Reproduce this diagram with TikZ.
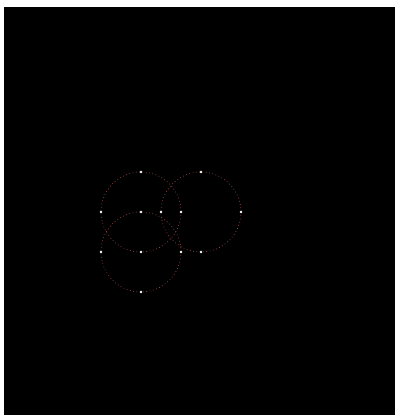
\documentclass[tikz,border=0pt]{standalone}
\usepackage{tikz}

\begin{document}
\begin{tikzpicture}[x=0.75pt,y=0.75pt,yscale=-1,xscale=1]
\tikzset{ring/.style={draw={rgb,255:red,175;green,80;blue,80},dotted,line width=0.5pt},
  pt/.style={circle,fill=white,inner sep=0pt,minimum size=2.2pt}}
\useasboundingbox (0,0) rectangle (395,415);

%Shape: Rectangle [background]
\fill [black] (4,7) rectangle (395,415);

%Shape: Circle [upper left]
\draw [ring] (141,212) circle [radius=40];
%Shape: Circle [upper right]
\draw [ring] (201,212) circle [radius=40];
%Shape: Circle [lower]
\draw [ring] (141,252) circle [radius=40];

% Points of the upper left circle
\node [pt] (aN) at (141,172) {};
\node [pt] (aW) at (101,212) {};
\node [pt] (aE) at (181,212) {};
\node [pt] (aS) at (141,252) {};
% Points of the upper right circle
\node [pt] (bN) at (201,172) {};
\node [pt] (bW) at (161,212) {};
\node [pt] (bE) at (241,212) {};
\node [pt] (bS) at (201,252) {};
% Points of the lower circle
\node [pt] (cN) at (141,212) {};
\node [pt] (cW) at (101,252) {};
\node [pt] (cE) at (181,252) {};
\node [pt] (cS) at (141,292) {};
\end{tikzpicture}
\end{document}
